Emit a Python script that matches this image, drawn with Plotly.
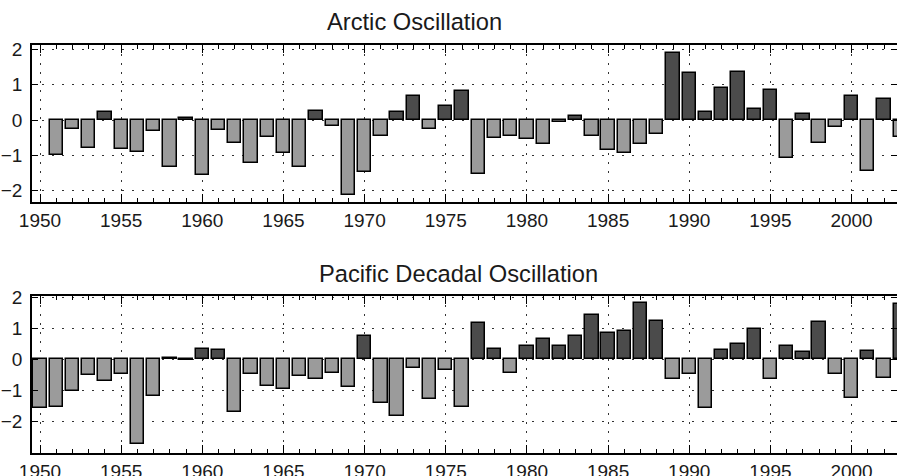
import plotly.graph_objects as go
from plotly.subplots import make_subplots

ao_years = list(range(1951, 2004))
ao_values = [-0.99, -0.26, -0.78, 0.22, -0.81, -0.91, -0.31, -1.34, 0.05, -1.56,
             -0.29, -0.65, -1.22, -0.47, -0.92, -1.34, 0.25, -0.17, -2.11, -1.47,
             -0.44, 0.22, 0.68, -0.24, 0.40, 0.83, -1.52, -0.50, -0.45, -0.54,
             -0.69, -0.05, 0.11, -0.45, -0.84, -0.94, -0.69, -0.40, 1.91, 1.34,
             0.23, 0.90, 1.35, 0.32, 0.85, -1.07, 0.18, -0.65, -0.20, 0.69,
             -1.44, 0.61, -0.49]

pdo_years = list(range(1950, 2004))
pdo_values = [-1.57, -1.55, -1.02, -0.50, -0.68, -0.47, -2.72, -1.18, 0.05, -0.02,
              0.35, 0.31, -1.70, -0.47, -0.86, -0.94, -0.53, -0.62, -0.43, -0.89,
              0.76, -1.42, -1.82, -0.27, -1.26, -0.35, -1.54, 1.18, 0.33, -0.43,
              0.45, 0.65, 0.42, 0.75, 1.43, 0.86, 0.91, 1.84, 1.25, -0.64,
              -0.46, -1.57, 0.30, 0.49, 0.98, -0.62, 0.43, 0.24, 1.22, -0.46,
              -1.25, 0.26, -0.60, 1.80]

titles = ["Arctic Oscillation", "Pacific Decadal Oscillation"]
x_ticks = list(range(1950, 2005, 5))

DARK = "#4b4b4b"
LIGHT = "#9b9b9b"
FONT = "Liberation Sans, Arial, sans-serif"

W, H = 897, 476
L = 32
fig = make_subplots(rows=2, cols=1)

def colors(vals):
    return [DARK if v > 0 else LIGHT for v in vals]

fig.add_trace(go.Bar(x=ao_years, y=ao_values, width=0.82,
                     marker=dict(color=colors(ao_values), line=dict(color="black", width=1.5)),
                     showlegend=False), row=1, col=1)
fig.add_trace(go.Bar(x=pdo_years, y=pdo_values, width=0.82,
                     marker=dict(color=colors(pdo_values), line=dict(color="black", width=1.5)),
                     showlegend=False), row=2, col=1)

def ydom(top_px, bot_px):
    return [1 - bot_px / H, 1 - top_px / H]

def xpaper(px):
    return (px - L) / (W - L)

xax = dict(range=[1949.507, 2002.80], tickvals=x_ticks, ticktext=[str(t) for t in x_ticks],
           ticks="inside", ticklen=8, tickwidth=1.2, tickcolor="black",
           showline=True, linecolor="black", linewidth=1.5, mirror="ticks",
           showgrid=True, gridcolor="#333333", gridwidth=1.2, griddash="2px,7px",
           zeroline=False,
           minor=dict(dtick=1, tick0=1950, ticks="inside", ticklen=4, tickcolor="black",
                      tickwidth=1, showgrid=False),
           tickfont=dict(family=FONT, size=19, color="#1a1a1a"),
           ticklabelstandoff=0, automargin=False, domain=[0, 1])

yax = dict(dtick=1, tick0=0, ticks="inside", ticklen=6, tickwidth=1.2, tickcolor="black",
           showline=True, linecolor="black", linewidth=1.5, mirror="ticks",
           showgrid=True, gridcolor="#333333", gridwidth=1.2, griddash="2px,8px",
           zeroline=False,
           tickfont=dict(family=FONT, size=19, color="#1a1a1a"),
           ticklabelstandoff=4, automargin=False)

fig.update_layout(
    width=W, height=H,
    margin=dict(l=L, r=0, t=0, b=0),
    paper_bgcolor="white", plot_bgcolor="white",
    bargap=0,
    xaxis=dict(xax),
    xaxis2=dict(xax),
    yaxis=dict(yax, range=[-2.32, 2.125], domain=ydom(45, 202), tickvals=[-2, -1, 0, 1, 2]),
    yaxis2=dict(yax, range=[-3.02, 2.05], domain=ydom(296, 453), tickvals=[-2, -1, 0, 1, 2]),
    annotations=[
        dict(text=titles[0], x=xpaper(414), y=1 - 36.8 / H, xref="paper", yref="paper",
             xanchor="center", yanchor="bottom", showarrow=False,
             font=dict(family=FONT, size=23.7, color="#1a1a1a")),
        dict(text=titles[1], x=xpaper(458.5), y=1 - 288.5 / H, xref="paper", yref="paper",
             xanchor="center", yanchor="bottom", showarrow=False,
             font=dict(family=FONT, size=23.7, color="#1a1a1a")),
    ],
)

fig.write_html("out.html", config={"displayModeBar": False},
               post_script="document.body.style.margin='0';document.body.style.overflow='hidden';")
